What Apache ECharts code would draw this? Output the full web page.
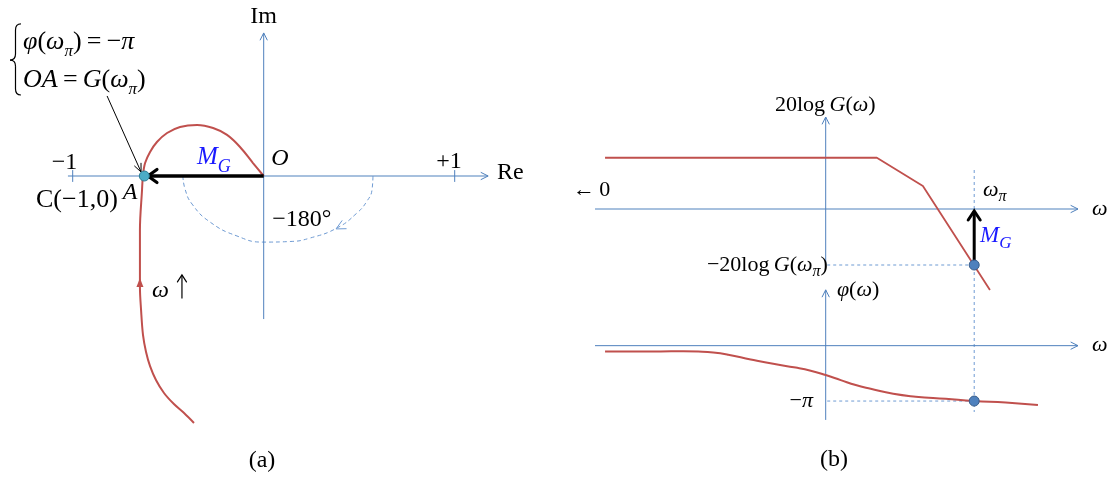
<!DOCTYPE html>
<html><head><meta charset="utf-8">
<script src="https://cdn.jsdelivr.net/npm/echarts@6/dist/echarts.min.js"></script>
<style>html,body{margin:0;padding:0;background:#fff}#c{width:1111px;height:479px}</style>
</head><body><div id="c"></div>
<script>
// ================= DATA =================
// (a) Nyquist plot, Re / Im units
const nyquistRe = [0, -0.056, -0.124, -0.192, -0.265, -0.349, -0.438, -0.506, -0.559, -0.595, -0.621, -0.632, -0.637, -0.648, -0.648, -0.642, -0.632, -0.616, -0.595, -0.564, -0.522, -0.470, -0.417, -0.365];
const nyquistIm = [0, 0.068, 0.152, 0.215, 0.251, 0.267, 0.257, 0.225, 0.178, 0.126, 0.068, 0.005, -0.073, -0.283, -0.581, -0.702, -0.832, -0.921, -0.995, -1.068, -1.136, -1.194, -1.241, -1.293];
const arcRe = [-0.423, -0.412, -0.375, -0.281, -0.140, -0.004, 0.138, 0.242, 0.384, 0.488, 0.541, 0.567, 0.572];
const arcIm = [0, -0.068, -0.147, -0.241, -0.314, -0.346, -0.343, -0.325, -0.272, -0.194, -0.131, -0.073, 0];
const pointA = [-0.625, 0];
const reAxisRange = [-1.025, 1.175];
const imAxisRange = [-0.749, 0.749];
const reTicks = [-1, 1];
const reTickLabels = ['−1', '+1'];
const mgArrowA = [0, 0, -0.606, 0];
const pointerArrow = [-0.820, 0.419, -0.642, 0.021];
const curveArrow = [-0.648, -0.60, -0.648, -0.534];
const arcArrow = [0.457, -0.236, 0.379, -0.277];
const omegaUpArrow = [-0.428, -0.641, -0.428, -0.518];
const braceAnchor = [-1.271, 0.796, -1.328, 0.607, 0.424];

// (b) Bode plot, x = log10(ω)
const magLogW = [-1.471, 0.341, 0.648, 1.095];
const magDb = [20.5, 20.5, 9.2, -32.4];
const phaseLogW = [-1.471, -1.1, -0.95, -0.85, -0.75, -0.65, -0.5, -0.35, -0.2, -0.1, 0, 0.1, 0.2, 0.3, 0.45, 0.6, 0.8, 0.99, 1.2, 1.415];
const phaseDeg = [-19, -18.5, -18, -19, -22, -29, -44, -58, -70, -80, -94, -110, -126, -138, -154, -163, -170, -177, -182, -190];
const logWpi = 0.99;
const magAtWpi = -22.4;
const phaseAtWpi = -177;
const wAxisRange = [-1.538, 1.682];
const magAxisRange = [-22.4, 36.8];
const phaseAxisRange = [-237.4, 178.4];
const wpiGuideRange = [15.6, -81.2];

// ================= STYLE =================
const F = "'Liberation Serif','DejaVu Serif',serif";
const AX = '#4f81bd', DASH = '#6f9bd3', RED = '#c0504d', BLUE = '#1a1aff';
const fnt = (size, it) => (it ? 'italic ' : '') + size + 'px ' + F;
const sub = (size, off, color) => ({font: fnt(size, true), fill: color || '#000', verticalAlign: 'bottom', lineHeight: 2 * off + size});
const RICH = {
  r: {font: fnt(24), fill: '#000'},
  i: {font: fnt(24, true), fill: '#000'},
  r26: {font: fnt(26), fill: '#000'},
  i26: {font: fnt(26, true), fill: '#000'},
  s26: sub(17, 10),
  r22: {font: fnt(22), fill: '#000'},
  i22: {font: fnt(22, true), fill: '#000'},
  s22: sub(16, 7),
  mA: {font: fnt(25, true), fill: BLUE},
  gA: sub(18, 10, BLUE),
  mB: {font: fnt(23, true), fill: BLUE},
  gB: sub(17, 8, BLUE)
};

const textsA = [
  {t: '{r|Im}', at: [0, 0.832]},
  {t: '{r|Re}', at: [1.222, 0.016], align: 'left'},
  {t: '{r|' + reTickLabels[1] + '}', at: [0.97, 0.073]},
  {t: '{r|' + reTickLabels[0] + '}', at: [-1.043, 0.068]},
  {t: '{i|O}', at: [0.085, 0.089]},
  {t: '{mA|M}{gA|G}', at: [-0.349, 0.0995], align: 'left'},
  {t: '{i|A}', at: [-0.700, -0.089]},
  {t: '{r26|C(−1,0)}', at: [-0.978, -0.126]},
  {t: '{r|−180°}', at: [0.200, -0.230]},
  {t: '{i|ω}', at: [-0.585, -0.600], align: 'left'},
  {t: '{i26|φ}{r26|(}{i26|ω}{s26|π}{r26|)\u2009=\u2009−}{i26|π}', at: [-1.26, 0.702], align: 'left'},
  {t: '{i26|OA}{r26|\u2009=\u2009}{i26|G}{r26|(}{i26|ω}{s26|π}{r26|)}', at: [-1.26, 0.503], align: 'left'},
  {t: '{r|(a)}', at: [-0.009, -1.492]}
];
const textsB = [
  {t: '{r22|20log\u2009}{i22|G}{r22|(}{i22|ω}{r22|)}', at: [-0.338, 41.6], align: 'left'},
  {t: '{r22|←\u20090}', at: [-1.685, 7.6], align: 'left'},
  {t: '{i22|ω}', at: [1.776, 0], align: 'left'},
  {t: '{i22|ω}{s22|π}', at: [1.049, 7.6], align: 'left'},
  {t: '{mB|M}{gB|G}', at: [1.029, -10.8], align: 'left'},
  {t: '{r22|−20log\u2009}{i22|G}{r22|(}{i22|ω}{s22|π}{r22|)}', at: [0.015, magAtWpi], align: 'right'}
];
const textsC = [
  {t: '{i22|φ}{r22|(}{i22|ω}{r22|)}', at: [0.075, 178.4], align: 'left'},
  {t: '{r22|−}{i22|π}', at: [-0.085, phaseAtWpi], align: 'right'},
  {t: '{i22|ω}', at: [1.776, 0], align: 'left'},
  {t: '{r|(b)}', at: [0.055, -365.4]}
];

// ================= HELPERS =================
const zip = (xs, ys) => xs.map((x, i) => [x, ys[i]]);

function textSeries(g, items) {
  return {
    type: 'custom', xAxisIndex: g, yAxisIndex: g, clip: false, silent: true, z: 10,
    data: items.map((it, k) => [it.at[0], it.at[1], k]),
    renderItem(params, api) {
      const it = items[api.value(2)];
      const p = api.coord([api.value(0), api.value(1)]);
      return {type: 'text', x: p[0], y: p[1],
        style: {text: it.t, rich: RICH, font: fnt(24), fill: '#000', align: it.align || 'center', verticalAlign: 'middle'}};
    }
  };
}

function arrowSeries(g, rows, o) {
  return {
    type: 'custom', xAxisIndex: g, yAxisIndex: g, clip: false, silent: true, z: o.z || 3,
    data: rows,
    renderItem(params, api) {
      const a = api.coord([api.value(0), api.value(1)]);
      const b = api.coord([api.value(2), api.value(3)]);
      const dx = b[0] - a[0], dy = b[1] - a[1];
      const len = Math.hypot(dx, dy) || 1;
      const ux = dx / len, uy = dy / len, px = -uy, py = ux;
      const ch = [];
      if (o.shaft !== false) {
        ch.push({type: 'line', shape: {x1: a[0], y1: a[1], x2: b[0], y2: b[1]},
          style: {stroke: o.color, lineWidth: o.width, lineDash: o.dash || null, lineCap: 'butt'}});
      }
      if (o.head) {
        const bx = b[0] - ux * o.head[0], by = b[1] - uy * o.head[0], w = o.head[1];
        const pts = [[bx + px * w, by + py * w], [b[0], b[1]], [bx - px * w, by - py * w]];
        if (o.filled) ch.push({type: 'polygon', shape: {points: pts}, style: {fill: o.color}});
        else ch.push({type: 'polyline', shape: {points: pts},
          style: {stroke: o.color, lineWidth: o.headWidth || o.width, fill: null, lineJoin: 'miter', lineCap: 'round'}});
      }
      return {type: 'group', children: ch};
    }
  };
}

function braceSeries(g, anchor) {
  return {
    type: 'custom', xAxisIndex: g, yAxisIndex: g, clip: false, silent: true, z: 5,
    data: [anchor],
    renderItem(params, api) {
      const top = api.coord([api.value(0), api.value(1)]);
      const tip = api.coord([api.value(2), api.value(3)]);
      const bot = api.coord([api.value(0), api.value(4)]);
      const xr = top[0], xl = tip[0], xm = (xl + xr) / 2, yt = top[1], ym = tip[1], yb = bot[1], c = 6;
      const st = {stroke: '#000', lineWidth: 1.2, fill: null};
      return {type: 'group', children: [
        {type: 'bezierCurve', shape: {x1: xr, y1: yt, x2: xm, y2: yt + c, cpx1: xm, cpy1: yt}, style: st},
        {type: 'line', shape: {x1: xm, y1: yt + c, x2: xm, y2: ym - c}, style: st},
        {type: 'bezierCurve', shape: {x1: xm, y1: ym - c, x2: xl, y2: ym, cpx1: xm, cpy1: ym}, style: st},
        {type: 'bezierCurve', shape: {x1: xl, y1: ym, x2: xm, y2: ym + c, cpx1: xm, cpy1: ym}, style: st},
        {type: 'line', shape: {x1: xm, y1: ym + c, x2: xm, y2: yb - c}, style: st},
        {type: 'bezierCurve', shape: {x1: xm, y1: yb - c, x2: xr, y2: yb, cpx1: xm, cpy1: yb}, style: st}
      ]};
    }
  };
}

function pointSeries(g, pt, fill, border) {
  return {type: 'scatter', xAxisIndex: g, yAxisIndex: g, clip: false, silent: true, z: 8,
    symbol: 'circle', symbolSize: 10, data: [pt],
    itemStyle: {color: fill, borderColor: border, borderWidth: 1, opacity: 1}};
}

function curveSeries(g, data, opts) {
  return Object.assign({type: 'line', xAxisIndex: g, yAxisIndex: g, clip: false, silent: true, z: 4,
    showSymbol: false, symbol: 'none', data: data,
    lineStyle: {color: RED, width: 2}}, opts || {});
}

// ================= CHART =================
const chart = echarts.init(document.getElementById('c'), null, {renderer: 'canvas'});
const hidden = {show: false};
const axisStyle = {color: AX, width: 1, head: [7, 3.5], headWidth: 1};
const dashStyle = {color: DASH, width: 1, dash: [3, 3], z: 2};
const thickBlack = {color: '#000', width: 3.5, head: [9, 6.5], headWidth: 3.2, z: 6};

const option = {
  animation: false,
  backgroundColor: '#fff',
  grid: [
    {left: 5.85, top: 4.1, width: 515.7, height: 458.4, containLabel: false},
    {left: 585.7, top: 84, width: 510, height: 225, containLabel: false},
    {left: 585.7, top: 283.1, width: 510, height: 187.7, containLabel: false}
  ],
  xAxis: [
    Object.assign({gridIndex: 0, type: 'value', min: -1.35, max: 1.35}, hidden),
    Object.assign({gridIndex: 1, type: 'value', min: -1.6, max: 1.8}, hidden),
    Object.assign({gridIndex: 2, type: 'value', min: -1.6, max: 1.8}, hidden)
  ],
  yAxis: [
    Object.assign({gridIndex: 0, type: 'value', min: -1.5, max: 0.9}, hidden),
    Object.assign({gridIndex: 1, type: 'value', min: -40, max: 50}, hidden),
    Object.assign({gridIndex: 2, type: 'value', min: -400, max: 200}, hidden)
  ],
  series: [
    // ----- (a) -----
    arrowSeries(0, [[reAxisRange[0], 0, reAxisRange[1], 0], [0, imAxisRange[0], 0, imAxisRange[1]]], axisStyle),
    arrowSeries(0, reTicks.map(v => [v, -0.031, v, 0.031]), {color: AX, width: 1}),
    curveSeries(0, zip(arcRe, arcIm), {smooth: 0.5, lineStyle: {color: DASH, width: 1, type: [4, 3]}, z: 2}),
    arrowSeries(0, [arcArrow], {color: DASH, width: 1, shaft: false, head: [9, 4.5], headWidth: 1}),
    curveSeries(0, zip(nyquistRe, nyquistIm), {smooth: 0.35}),
    arrowSeries(0, [curveArrow], {color: RED, width: 2, shaft: false, head: [9, 3.5], filled: true}),
    arrowSeries(0, [mgArrowA], thickBlack),
    arrowSeries(0, [pointerArrow], {color: '#000', width: 1, head: [8, 3.5], headWidth: 1, z: 7}),
    arrowSeries(0, [omegaUpArrow], {color: '#000', width: 1.2, head: [7, 4.5], headWidth: 1.2, z: 7}),
    pointSeries(0, pointA, '#4bacc6', '#2b7d93'),
    braceSeries(0, braceAnchor),
    textSeries(0, textsA),
    // ----- (b) magnitude -----
    arrowSeries(1, [[wAxisRange[0], 0, wAxisRange[1], 0], [0, magAxisRange[0], 0, magAxisRange[1]]], axisStyle),
    arrowSeries(1, [[logWpi, wpiGuideRange[0], logWpi, wpiGuideRange[1]], [0.01, magAtWpi, logWpi, magAtWpi]], dashStyle),
    curveSeries(1, zip(magLogW, magDb), {lineStyle: {color: RED, width: 1.8}}),
    arrowSeries(1, [[logWpi, magAtWpi, logWpi, -0.8]], Object.assign({}, thickBlack, {width: 3, headWidth: 3, head: [9, 6]})),
    pointSeries(1, [logWpi, magAtWpi], '#4f81bd', '#385d8a'),
    textSeries(1, textsB),
    // ----- (b) phase -----
    arrowSeries(2, [[wAxisRange[0], 0, wAxisRange[1], 0], [0, phaseAxisRange[0], 0, phaseAxisRange[1]]], axisStyle),
    arrowSeries(2, [[0.01, phaseAtWpi, logWpi, phaseAtWpi]], dashStyle),
    curveSeries(2, zip(phaseLogW, phaseDeg), {smooth: 0.5}),
    pointSeries(2, [logWpi, phaseAtWpi], '#4f81bd', '#385d8a'),
    textSeries(2, textsC)
  ]
};
chart.setOption(option);
</script>
</body></html>
